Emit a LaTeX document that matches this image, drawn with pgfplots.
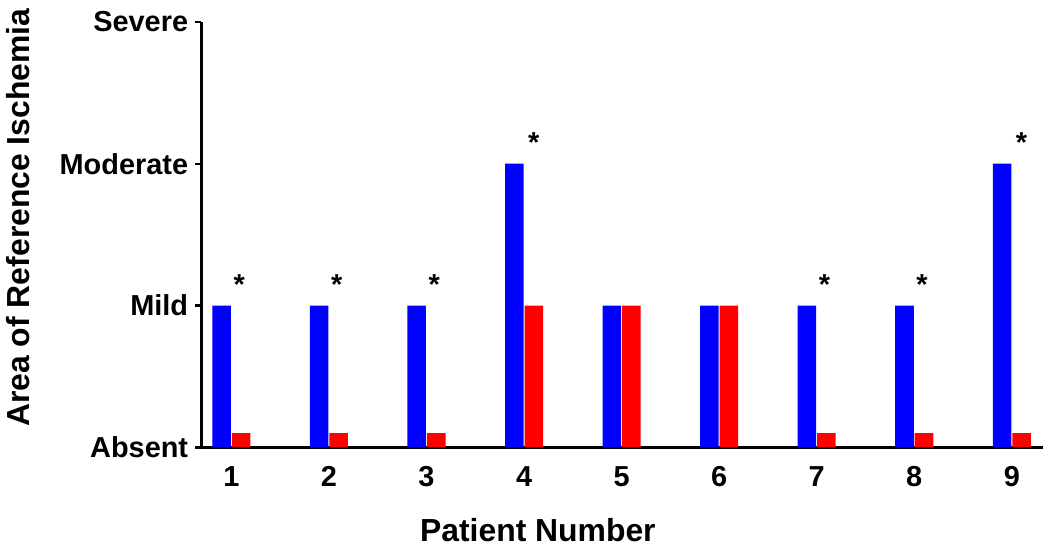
\documentclass[border=0pt]{standalone}
\usepackage{fontspec}
\setmainfont{Liberation Sans}
\usepackage{pgfplots}
\pgfplotsset{compat=1.18}
\usetikzlibrary{calc}
\definecolor{barBlue}{RGB}{0,0,255}
\definecolor{barRed}{RGB}{255,0,0}
\tikzset{star/.style={font=\fontsize{14.5pt}{16pt}\selectfont\bfseries, inner sep=0pt}}

\begin{document}
\begin{tikzpicture}
\begin{axis}[
    scale only axis, width=422.5pt, height=213.5pt,
    xmin=0.69, xmax=9.32, ymin=0, ymax=3,
    axis lines*=left,
    axis line style={-, line width=1.4pt, black},
    ybar, bar width=0.19,
    xtick={1,...,9}, xticklabels={1,2,3,4,5,6,7,8,9},
    ytick={0,1,2,3}, yticklabels={Absent,Mild,Moderate,Severe},
    x tick style={draw=none},
    y tick style={line width=1.2pt, black},
    tick align=outside, major tick length=3pt,
    tick label style={font=\fontsize{14.5pt}{16pt}\selectfont\bfseries},
    x tick label style={yshift=-3pt},
    xlabel={Patient Number},
    ylabel={Area of Reference Ischemia},
    label style={font=\fontsize{16pt}{19pt}\selectfont\bfseries},
    xlabel style={at={(ticklabel cs:0.40)}, anchor=north, yshift=-9pt},
    ylabel style={at={(ticklabel cs:0.54)}, anchor=south, yshift=8pt},
    clip=false,
]
% blue: reference ischemia area, red: comparison
\addplot[fill=barBlue, draw=none, bar shift=-0.1] coordinates {
    (1,1) (2,1) (3,1) (4,2) (5,1) (6,1) (7,1) (8,1) (9,2)
};
\addplot[fill=barRed, draw=none, bar shift=0.1] coordinates {
    (1,0.1) (2,0.1) (3,0.1) (4,1) (5,1) (6,1) (7,0.1) (8,0.1) (9,0.1)
};
% significance marks
\node[star] at (axis cs:1.08,1.15) {*};
\node[star] at (axis cs:2.08,1.15) {*};
\node[star] at (axis cs:3.08,1.15) {*};
\node[star] at (axis cs:4.1,2.15) {*};
\node[star] at (axis cs:7.08,1.15) {*};
\node[star] at (axis cs:8.08,1.15) {*};
\node[star] at (axis cs:9.1,2.15) {*};
\end{axis}
\path ($(current axis.south west)+(-99pt,-53pt)$) rectangle ($(current axis.south west)+(426pt,224.5pt)$);
\end{tikzpicture}
\end{document}
